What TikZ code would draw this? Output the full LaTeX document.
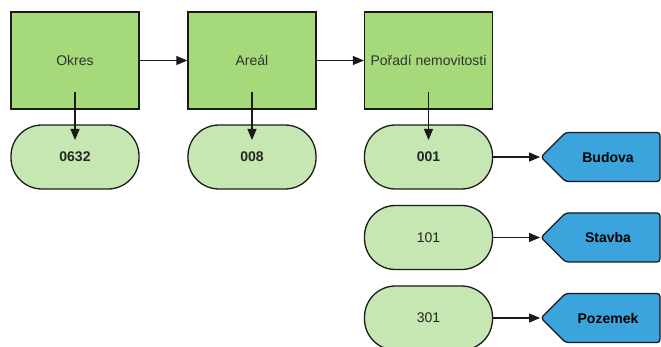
\documentclass[tikz,border=0pt]{standalone}
\usepackage{fontspec}
\setmainfont{Liberation Sans}
\usetikzlibrary{arrows.meta,shapes.symbols}
\definecolor{boxgreen}{HTML}{A5D97A}
\definecolor{pillgreen}{HTML}{C6E7B1}
\definecolor{tagblue}{HTML}{3BA4DC}
\definecolor{edge}{HTML}{1A1A1A}
\tikzset{
keybox/.style={draw=edge,line width=1.3pt,fill=boxgreen,minimum width=128pt,minimum height=97pt,inner sep=0pt,text=black!80},
valpill/.style={draw=edge,line width=1.3pt,fill=pillgreen,minimum width=128pt,minimum height=64pt,rounded corners=31pt,inner sep=0pt,text=black!85},
boldtext/.style={font=\fontsize{14}{16}\selectfont\bfseries},
tag/.style={draw=edge,line width=1.3pt,fill=tagblue,shape=signal,signal to=west,signal from=nowhere,signal pointer angle=90,minimum width=119pt,minimum height=49pt,inner sep=0pt,rounded corners=3pt},
tagtext/.style={boldtext,text=black,xshift=-4.75pt},
arr/.style={-{Triangle[length=11pt,width=9pt]},line width=1.1pt,edge}
}
\begin{document}
\begin{tikzpicture}[x=1pt,y=-1pt,font=\fontsize{14}{16}\selectfont]
\clip(0,0)rectangle(661,347);
%keys
\foreach \n/\x/\t in {okres/75/Okres,areal/252/Areál,poradi/428.5/Pořadí nemovitosti}{\node[keybox](\n)at(\x,60.5){\t};}
\draw[arr](okres)--(areal);
\draw[arr](areal)--(poradi);
%values
\node[valpill,boldtext](v0632)at(75,157){0632};
\node[valpill,boldtext](v008)at(252,157){008};
\node[valpill,boldtext](v001)at(428.5,157){001};
\node[valpill](v101)at(428.5,237.5){101};
\node[valpill](v301)at(428.5,318){301};
\foreach \k/\v in {okres/v0632,areal/v008,poradi/v001}{\draw[arr]([yshift=-31.5pt]\k.center)--([yshift=17pt]\v.center);}
%tags
\foreach \n/\v/\y/\t in {budova/v001/157/Budova,stavba/v101/237.5/Stavba,pozemek/v301/318/Pozemek}{
\node[tag,label={[tagtext]center:\t}](\n)at(612.75,\y){};
\draw[arr](\v)--(\n.west);}
\end{tikzpicture}
\end{document}
